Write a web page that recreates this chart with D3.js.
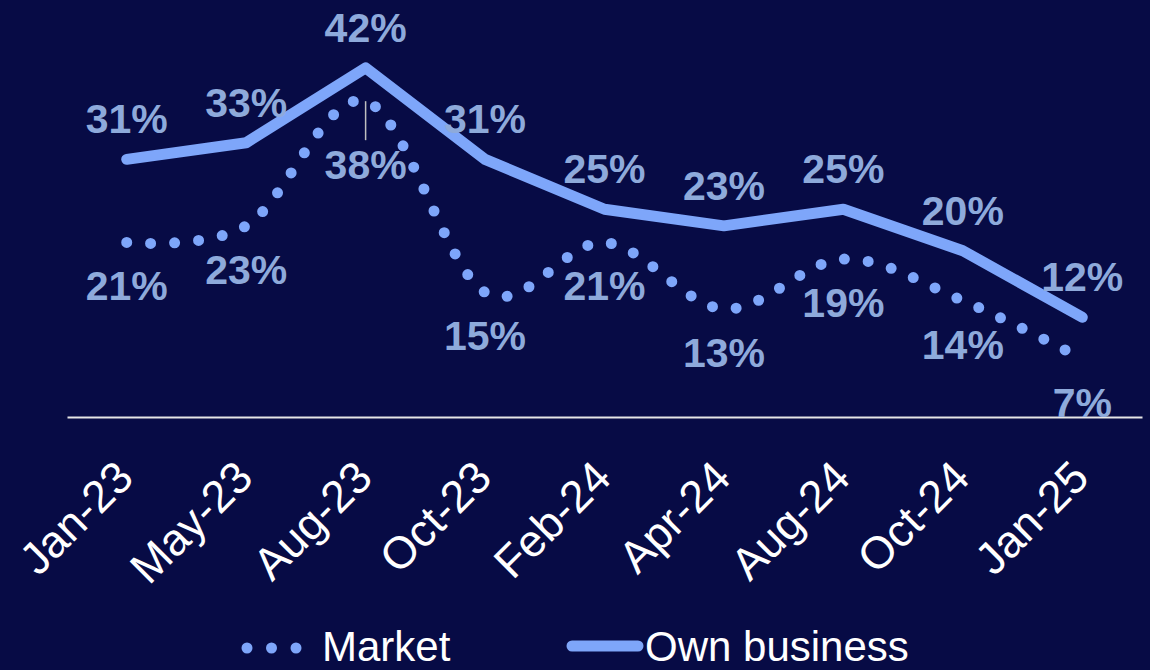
<!DOCTYPE html>
<html lang="en">
  <head>
    <meta charset="utf-8">
    <title>Market vs own business</title>
    <script src="https://cdn.jsdelivr.net/npm/d3@7/dist/d3.min.js"></script>
    <style>
      html, body { margin: 0; padding: 0; background: #070b45; }
      svg { display: block; }
    </style>
  </head>
  <body>
    <div id="chart"></div>
    <script type="text/javascript">
      // data
      let months = ['Jan-23', 'May-23', 'Aug-23', 'Oct-23', 'Feb-24', 'Apr-24', 'Aug-24', 'Oct-24', 'Jan-25'];
      let market = [21, 23, 38, 15, 21, 13, 19, 14, 7];
      let own = [31, 33, 42, 31, 25, 23, 25, 20, 12];

      let width = 1150;
      let height = 670;
      let lineColor = '#7ea6fa';
      let labelColor = '#8eaadb';
      let font = 'Arial, "Liberation Sans", Helvetica, sans-serif';

      let svg = d3.select('#chart').append('svg')
        .attr('width', width)
        .attr('height', height)
        .style('background', '#070b45')

      let x = d3.scaleBand()
        .domain(months)
        .range([67, 1142])
      let y = d3.scaleLinear()
        .domain([0, 45])
        .range([417, 43])
      let cx = (d, i) => x(months[i]) + x.bandwidth() / 2

      // x axis
      let axis = svg.append('g')
        .attr('transform', 'translate(0,417)')
        .call(d3.axisBottom(x).tickSize(0).tickSizeOuter(0))
      axis.select('.domain')
        .attr('stroke', '#e6e6e6')
        .attr('stroke-width', 2)
      axis.selectAll('text')
        .attr('x', 9)
        .attr('y', 63)
        .attr('dy', 0)
        .attr('transform', 'rotate(-45, 9, 63)')
        .attr('text-anchor', 'end')
        .attr('fill', '#ffffff')
        .attr('font-family', font)
        .attr('font-size', '45px')

      // market line, smoothed and dotted
      let marketLine = d3.line()
        .x(cx)
        .y((d) => y(d))
        .curve(d3.curveCardinal.tension(0))
      svg.append('path')
        .datum(market)
        .attr('d', marketLine)
        .attr('fill', 'none')
        .attr('stroke', lineColor)
        .attr('stroke-width', 11)
        .attr('stroke-linecap', 'round')
        .attr('stroke-dasharray', '0 24')

      // own business line
      let ownLine = d3.line()
        .x(cx)
        .y((d) => y(d))
      svg.append('path')
        .datum(own)
        .attr('d', ownLine)
        .attr('fill', 'none')
        .attr('stroke', lineColor)
        .attr('stroke-width', 11)
        .attr('stroke-linecap', 'round')
        .attr('stroke-linejoin', 'round')

      // the Aug-23 market label is pushed down, with a leader line
      let pushed = { 2: 20 }

      svg.selectAll('line.leader')
        .data(market.map((d, i) => [d, i]).filter((p) => pushed[p[1]]))
        .enter()
        .append('line')
        .attr('class', 'leader')
        .attr('x1', (p) => cx(p[0], p[1]))
        .attr('x2', (p) => cx(p[0], p[1]))
        .attr('y1', (p) => y(p[0]))
        .attr('y2', (p) => y(p[0]) + 39)
        .attr('stroke', '#bfbfbf')
        .attr('stroke-width', 1.5)

      svg.selectAll('text.own')
        .data(own)
        .enter()
        .append('text')
        .attr('class', 'own')
        .attr('x', cx)
        .attr('y', (d) => y(d) - 26)
        .text((d) => d + '%')
        .attr('text-anchor', 'middle')
        .attr('font-family', font)
        .attr('font-weight', 'bold')
        .attr('font-size', '41px')
        .attr('fill', labelColor)

      svg.selectAll('text.market')
        .data(market)
        .enter()
        .append('text')
        .attr('class', 'market')
        .attr('x', cx)
        .attr('y', (d, i) => y(d) + 58 + (pushed[i] || 0))
        .text((d) => d + '%')
        .attr('text-anchor', 'middle')
        .attr('font-family', font)
        .attr('font-weight', 'bold')
        .attr('font-size', '41px')
        .attr('fill', labelColor)

      // legend
      let legend = svg.append('g')
      legend.selectAll('circle')
        .data([0, 1, 2])
        .enter()
        .append('circle')
        .attr('cx', (d) => 247 + d * 24.5)
        .attr('cy', 648)
        .attr('r', 5.5)
        .attr('fill', lineColor)
      legend.append('text')
        .attr('x', 322)
        .attr('y', 661)
        .text('Market')
        .attr('font-family', font)
        .attr('font-size', '42px')
        .attr('fill', '#ffffff')
      legend.append('line')
        .attr('x1', 572)
        .attr('x2', 638)
        .attr('y1', 646)
        .attr('y2', 646)
        .attr('stroke', lineColor)
        .attr('stroke-width', 11)
        .attr('stroke-linecap', 'round')
      legend.append('text')
        .attr('x', 645)
        .attr('y', 661)
        .text('Own business')
        .attr('font-family', font)
        .attr('font-size', '42px')
        .attr('fill', '#ffffff')
    </script>
  </body>
</html>
